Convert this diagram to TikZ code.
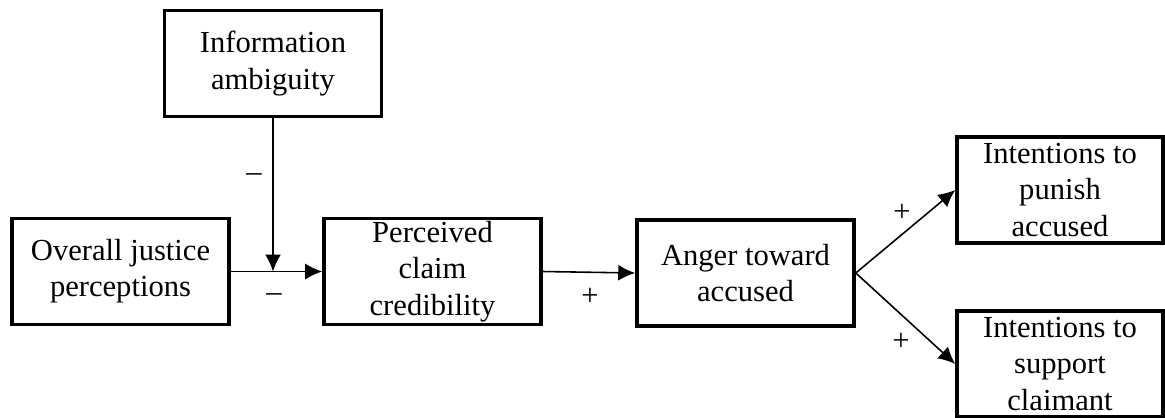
\documentclass[tikz,border=0pt]{standalone}
\usepackage{fontspec}
\setmainfont{Liberation Serif}
\usetikzlibrary{arrows.meta, positioning}

\begin{document}
\begin{tikzpicture}[
    box/.style={rectangle, draw=black, line width=2pt, fill=white, align=center,
        minimum width=4.34cm, minimum height=2.12cm, inner sep=1pt,
        font=\fontsize{17.4}{20.6}\selectfont},
    outbox/.style={box, minimum width=4.12cm},
    link/.style={line width=0.9pt, -{Latex[length=3.4mm, width=3.2mm]}},
    sign/.style={font=\fontsize{17.4}{20.6}\selectfont, inner sep=1pt}
]
\useasboundingbox (0,0) rectangle (23.3,-8.34);

%=== Boxes ===
\node[box] (info)      at (5.46,-1.27)  {Information\\ambiguity};   % moderator
\node[box] (justice)   at (2.41,-5.43)  {Overall justice\\perceptions};
\node[box] (cred)      at (8.65,-5.43)  {Perceived\\claim\\credibility};
\node[box] (anger)     at (14.91,-5.46) {Anger toward\\accused};
\node[outbox] (punish)  at (21.20,-3.80) {Intentions to\\punish\\accused};
\node[outbox] (support) at (21.20,-7.28) {Intentions to\\support\\claimant};

%=== Paths ===
\coordinate (join) at (info.south |- justice.east);
\draw[link] (justice.east) -- (cred.west);
\draw[link] (info.south) -- (join);
\draw[link] (cred.east) -- (anger.west);
\draw[link] (anger.east) -- (punish.west);
\draw[link] (anger.east) -- (support.west);

%=== Signs ===
\node[sign] (s1) at (5.08,-3.56)  {--};
\node[sign] (s2) at (5.48,-5.96)  {--};
\node[sign] (s3) at (11.80,-5.94) {+};
\node[sign] (s4) at (18.04,-4.26) {+};
\node[sign] (s5) at (18.02,-6.84) {+};
\end{tikzpicture}
\end{document}
